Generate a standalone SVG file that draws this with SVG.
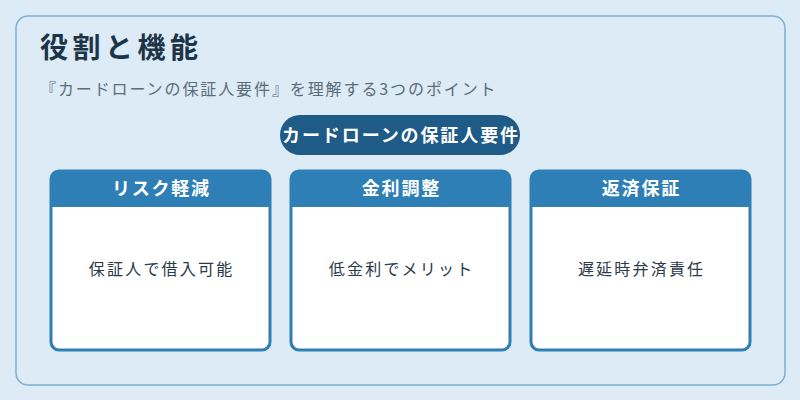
<svg xmlns="http://www.w3.org/2000/svg" width="800" height="400" viewBox="0 0 800 400">
<style>
text{font-family:"Noto Sans CJK JP","Noto Sans",sans-serif}
.card{fill:#ffffff;stroke:#2e7fb5;stroke-width:3}
.head{fill:#2e7fb5}
.ht{fill:#ffffff;font-size:18px;font-weight:bold;text-anchor:middle;letter-spacing:1.8px}
.bt{fill:#2a3a48;font-size:16px;text-anchor:middle;letter-spacing:2.2px}
</style>
<rect x="0" y="0" width="800" height="400" fill="#dcebf6"/>
<rect x="16" y="16" width="769" height="369" rx="12" fill="#dcebf6" stroke="#7ab0d4" stroke-width="1.5"/>
<text x="40" y="58" font-size="28" font-weight="bold" fill="#1c3447" letter-spacing="4.5">役割と機能</text>
<text x="40" y="95" font-size="16" fill="#5a6b7a" letter-spacing="1.9">『カードローンの保証人要件』を理解する3つのポイント</text>
<g id="center">
<rect x="280" y="115" width="240" height="40" rx="20" fill="#1f5b87"/>
<text x="401" y="142" font-size="18" font-weight="bold" fill="#ffffff" text-anchor="middle" letter-spacing="1.9">カードローンの保証人要件</text>
</g>
<g id="connectors"></g>
<g id="card1">
<rect class="card" x="51" y="171" width="219" height="179" rx="8"/>
<path class="head" d="M51,207 V179 a8,8 0 0 1 8,-8 H262 a8,8 0 0 1 8,8 V207 Z"/>
<text class="ht" x="161.4" y="195">リスク軽減</text>
<text class="bt" x="161.6" y="275">保証人で借入可能</text>
</g>
<g id="card2">
<rect class="card" x="291" y="171" width="219" height="179" rx="8"/>
<path class="head" d="M291,207 V179 a8,8 0 0 1 8,-8 H502 a8,8 0 0 1 8,8 V207 Z"/>
<text class="ht" x="401.4" y="195">金利調整</text>
<text class="bt" x="401.6" y="275">低金利でメリット</text>
</g>
<g id="card3">
<rect class="card" x="531" y="171" width="219" height="179" rx="8"/>
<path class="head" d="M531,207 V179 a8,8 0 0 1 8,-8 H742 a8,8 0 0 1 8,8 V207 Z"/>
<text class="ht" x="641.4" y="195">返済保証</text>
<text class="bt" x="641.6" y="275">遅延時弁済責任</text>
</g>
</svg>
